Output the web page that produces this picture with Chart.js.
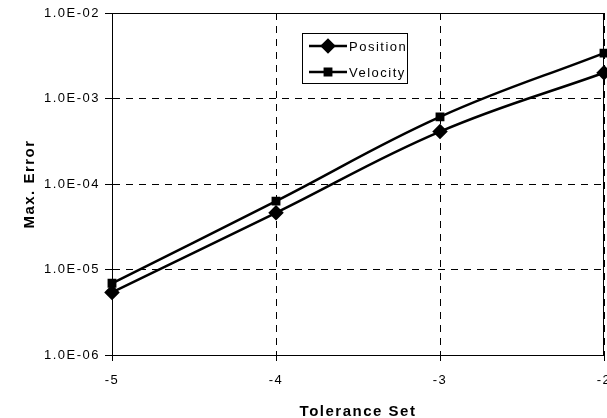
<!DOCTYPE html>
<html>
<head>
<meta charset="utf-8">
<script src="https://cdn.jsdelivr.net/npm/chart.js@4/dist/chart.umd.min.js"></script>
<style>
  html, body { margin: 0; padding: 0; background: #fff; }
  #wrap { width: 607px; height: 418px; }
</style>
</head>
<body>
<div id="wrap"><canvas id="errChart" width="607" height="418"></canvas></div>
<script>
// tolerance sets on the x axis
const toleranceSets = [-5, -4, -3, -2];
// max. error values
const positionErr = [5.4e-6, 4.6e-5, 4.1e-4, 2.0e-3];
const velocityErr = [6.9e-6, 6.3e-5, 6.1e-4, 3.4e-3];
// y ticks (log decades) and their labels
const yTicks = [1e-6, 1e-5, 1e-4, 1e-3, 1e-2];
const yTickLabels = ['1.0E-06', '1.0E-05', '1.0E-04', '1.0E-03', '1.0E-02'];
const xTicks = [-5, -4, -3, -2];

const FONT = 'Liberation Sans, Arial, sans-serif';

function toPoints(ys) {
    return toleranceSets.map((x, i) => ({ x: x, y: ys[i] }));
}

// letter spacing like the original rendering
const spacingPlugin = {
    id: 'spacing',
    beforeInit(chart) { chart.ctx.letterSpacing = '1.5px'; },
    beforeDraw(chart) {
        const ctx = chart.ctx;
        ctx.letterSpacing = '1.5px';
        ctx.save();
        ctx.fillStyle = '#fff';
        ctx.fillRect(0, 0, chart.width, chart.height);
        ctx.restore();
    }
};

// solid frame round the plot area and the boxed legend inside it
const framePlugin = {
    id: 'frame',
    beforeDatasetsDraw(chart) {
        const a = chart.chartArea;
        const ctx = chart.ctx;
        ctx.save();
        ctx.strokeStyle = '#000';
        ctx.lineWidth = 1;
        ctx.setLineDash([]);
        ctx.strokeRect(Math.round(a.left) + 0.5, Math.round(a.top) + 0.5,
            Math.round(a.right - a.left) - 1, Math.round(a.bottom - a.top));
        ctx.restore();
    },
    afterDraw(chart) {
        const ctx = chart.ctx;
        ctx.save();
        ctx.setLineDash([]);
        ctx.fillStyle = '#fff';
        ctx.fillRect(302, 33, 106, 51);
        ctx.strokeStyle = '#000';
        ctx.lineWidth = 1;
        ctx.strokeRect(302.5, 33.5, 105, 50);
        chart.data.datasets.forEach((ds, i) => {
            const y = 46 + i * 26;
            ctx.strokeStyle = '#000';
            ctx.lineWidth = 2.5;
            ctx.beginPath();
            ctx.moveTo(309, y);
            ctx.lineTo(347, y);
            ctx.stroke();
            ctx.fillStyle = '#000';
            Chart.helpers.drawPoint(ctx, { pointStyle: ds.pointStyle, radius: ds.pointRadius, borderWidth: 1 }, 328, y);
            ctx.fill();
            ctx.fillStyle = '#000';
            ctx.font = '13px ' + FONT;
            ctx.letterSpacing = '1.5px';
            ctx.textBaseline = 'middle';
            ctx.textAlign = 'left';
            ctx.fillText(ds.label, 349, y + 1);
        });
        ctx.restore();
    }
};

new Chart(document.getElementById('errChart').getContext('2d'), {
    type: 'line',
    data: {
        datasets: [{
            label: 'Position',
            data: toPoints(positionErr),
            borderColor: '#000',
            backgroundColor: '#000',
            borderWidth: 2.5,
            pointStyle: 'rectRot',
            pointRadius: 6,
            pointHoverRadius: 6,
            tension: 0.4,
            clip: false
        }, {
            label: 'Velocity',
            data: toPoints(velocityErr),
            borderColor: '#000',
            backgroundColor: '#000',
            borderWidth: 2.5,
            pointStyle: 'rect',
            pointRadius: 4.5,
            pointHoverRadius: 4.5,
            tension: 0.4,
            clip: false
        }]
    },
    options: {
        responsive: false,
        animation: false,
        events: [],
        // no auto padding for the markers, the plot runs up to the right edge
        layout: { autoPadding: false, padding: { top: 13, right: 3, left: 0, bottom: 0 } },
        plugins: {
            legend: { display: false },
            tooltip: { enabled: false }
        },
        scales: {
            x: {
                type: 'linear',
                min: -5,
                max: -2,
                afterBuildTicks(scale) { scale.ticks = xTicks.map(v => ({ value: v })); },
                afterFit(scale) {
                    scale.height = 63;
                    scale.paddingLeft = 0;
                    scale.paddingRight = 0;
                },
                grid: {
                    color: '#000',
                    lineWidth: 1,
                    tickLength: 6,
                    tickBorderDash: []
                },
                border: { display: true, color: '#000', width: 1, dash: [7, 6] },
                ticks: {
                    color: '#000',
                    padding: 12,
                    maxRotation: 0,
                    font: { family: FONT, size: 13 },
                    callback: v => String(v)
                },
                title: {
                    display: true,
                    text: 'Tolerance Set',
                    color: '#000',
                    font: { family: FONT, size: 15, weight: 'bold' },
                    padding: { top: -3, bottom: -3 }
                }
            },
            y: {
                type: 'logarithmic',
                min: 1e-6,
                max: 1e-2,
                afterBuildTicks(scale) { scale.ticks = yTicks.map(v => ({ value: v, major: true })); },
                afterFit(scale) {
                    scale.width = 112;
                    scale.paddingTop = 0;
                    scale.paddingBottom = 0;
                },
                grid: {
                    color: '#000',
                    lineWidth: 1,
                    tickLength: 7,
                    tickBorderDash: []
                },
                border: { display: true, color: '#000', width: 1, dash: [7, 6] },
                ticks: {
                    color: '#000',
                    padding: 5,
                    font: { family: FONT, size: 13 },
                    callback: (v, i) => yTickLabels[i]
                },
                title: {
                    display: true,
                    text: 'Max. Error',
                    color: '#000',
                    font: { family: FONT, size: 15, weight: 'bold' },
                    padding: { top: 21, bottom: 0 }
                }
            }
        }
    },
    plugins: [spacingPlugin, framePlugin]
});
</script>
</body>
</html>
